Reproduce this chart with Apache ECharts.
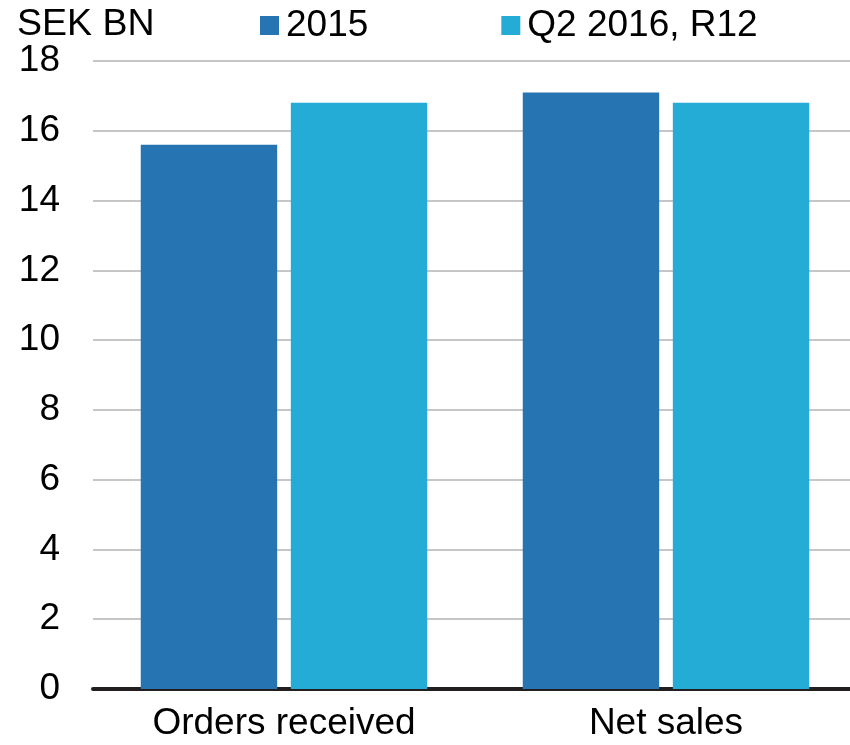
<!DOCTYPE html>
<html>
<head>
<meta charset="utf-8">
<script src="https://cdn.jsdelivr.net/npm/echarts@6/dist/echarts.min.js"></script>
<style>
    html, body { margin: 0; padding: 0; background: #fff; }
    #container { width: 850px; height: 745px; }
</style>
</head>
<body>
<div id="container"></div>
<script>
    // data
    var categories = ['Orders received', 'Net sales'];
    var series2015 = [15.6, 17.1];
    var seriesQ2 = [16.8, 16.8];
    var seriesNames = ['2015', 'Q2 2016, R12'];

    var myChart = echarts.init(document.getElementById('container'));
    var font = 'Liberation Sans, Arial, sans-serif';

    var option = {
        animation: false,
        textStyle: { fontFamily: font },
        title: {
            text: 'SEK BN',
            left: 17,
            top: 6,
            padding: 0,
            textStyle: { fontSize: 37.5, fontWeight: 'normal', color: '#000', fontFamily: font }
        },
        legend: {
            data: seriesNames,
            left: 260,
            top: 7,
            padding: 0,
            itemWidth: 19,
            itemHeight: 19,
            itemGap: 133,
            icon: 'rect',
            textStyle: { fontSize: 37, color: '#000', fontFamily: font, padding: [0, 0, 0, 2] }
        },
        grid: {
            left: 93,
            width: 764,
            top: 61,
            bottom: 56,
            outerBoundsMode: 'none',
            containLabel: false
        },
        xAxis: {
            type: 'category',
            data: categories,
            axisTick: { show: false },
            axisLine: { lineStyle: { color: '#231f20', width: 4 } },
            axisLabel: { fontSize: 37, color: '#000', margin: 16, fontFamily: font }
        },
        yAxis: {
            type: 'value',
            min: 0,
            max: 18,
            interval: 2,
            axisLine: { show: false },
            axisTick: { show: false },
            splitLine: { lineStyle: { color: '#c6c6c6', width: 2 } },
            axisLabel: { fontSize: 37, color: '#000', margin: 33, fontFamily: font }
        },
        series: [
            {
                name: seriesNames[0],
                type: 'bar',
                data: series2015,
                barGap: '10%',
                barCategoryGap: '25%',
                itemStyle: { color: '#2774b2' }
            },
            {
                name: seriesNames[1],
                type: 'bar',
                data: seriesQ2,
                itemStyle: { color: '#25acd6' }
            }
        ]
    };
    myChart.setOption(option, true);
</script>
</body>
</html>
